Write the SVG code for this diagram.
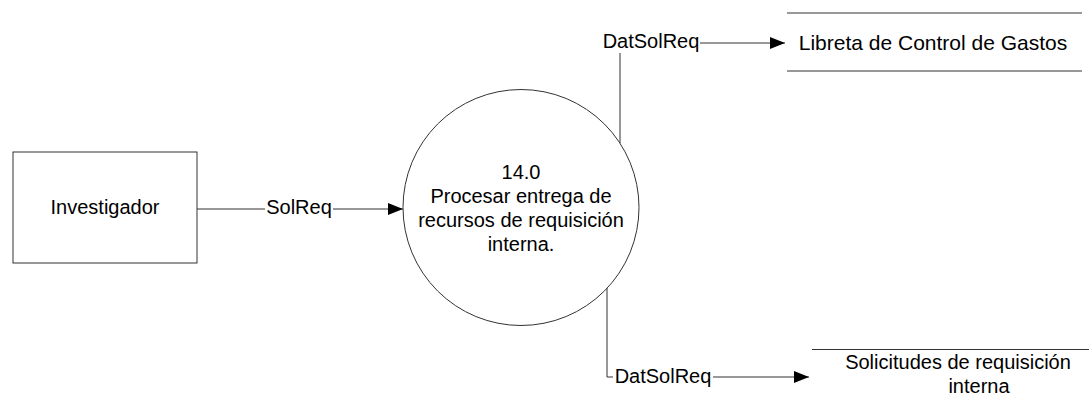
<svg xmlns="http://www.w3.org/2000/svg" width="1089" height="400" viewBox="0 0 1089 400">
<style>
.t{font-family:"Liberation Sans",Arial,sans-serif;font-size:20px;fill:#000;text-anchor:middle}
.s{fill:#fff;stroke:#333;stroke-width:1}
.l{fill:none;stroke:#333;stroke-width:1}
</style>
<defs>
<marker id="ah" markerWidth="15" markerHeight="12" refX="15" refY="6" orient="auto" markerUnits="userSpaceOnUse">
<path d="M0,0 L15,6 L0,12 Z" fill="#000"/>
</marker>
</defs>
<rect width="1089" height="400" fill="#fff"/>
<g id="connectors">
<line class="l" x1="197" y1="209" x2="265" y2="209"/>
<line class="l" x1="333" y1="209" x2="403" y2="209" marker-end="url(#ah)"/>
<text class="t" x="299" y="214">SolReq</text>
<line class="l" x1="620" y1="143" x2="620" y2="53"/>
<text class="t" x="651" y="48">DatSolReq</text>
<line class="l" x1="700" y1="43" x2="785" y2="43" marker-end="url(#ah)"/>
<polyline class="l" points="607,288 607,377 613,377"/>
<text class="t" x="663" y="383">DatSolReq</text>
<line class="l" x1="713" y1="377" x2="809" y2="377" marker-end="url(#ah)"/>
</g>
<g id="investigador">
<rect class="s" x="13" y="152" width="184" height="111"/>
<text class="t" x="105" y="214">Investigador</text>
</g>
<g id="proceso">
<circle class="s" cx="521" cy="207.5" r="118"/>
<text class="t" x="521" y="178.5">14.0</text>
<text class="t" x="521" y="202.5">Procesar entrega de</text>
<text class="t" x="521" y="227">recursos de requisición</text>
<text class="t" x="521" y="251">interna.</text>
</g>
<g id="libreta">
<line class="l" x1="787" y1="13" x2="1082" y2="13"/>
<line class="l" x1="787" y1="71" x2="1082" y2="71"/>
<text class="t" x="933" y="50" style="font-size:21px">Libreta de Control de Gastos</text>
</g>
<g id="solicitudes">
<line class="l" x1="812" y1="349.5" x2="1089" y2="349.5"/>
<text class="t" x="958" y="369">Solicitudes de requisición</text>
<text class="t" x="979" y="393">interna</text>
</g>
</svg>
